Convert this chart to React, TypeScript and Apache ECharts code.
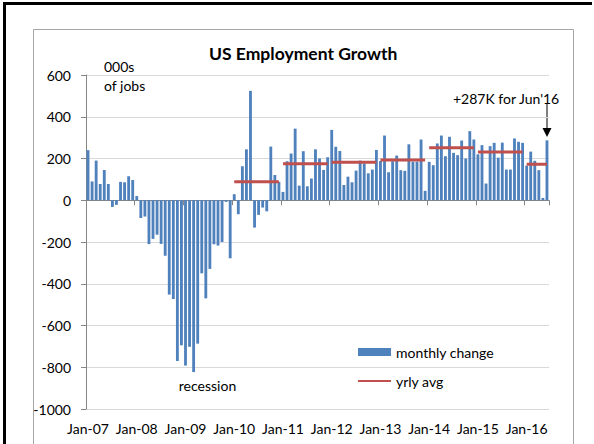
import React, { useEffect, useRef } from "react";
import * as echarts from "echarts";

const MONTHS = ["Jan", "Feb", "Mar", "Apr", "May", "Jun", "Jul", "Aug", "Sep", "Oct", "Nov", "Dec"];

const jobs2007 = [240, 90, 190, 78, 145, 78, -32, -22, 88, 86, 115, 97];
const jobs2008 = [20, -85, -78, -210, -185, -165, -209, -266, -452, -473, -770, -695];
const jobs2009 = [-792, -702, -823, -687, -350, -470, -329, -211, -217, -200, -8, -278];
const jobs2010 = [29, -67, 163, 244, 524, -131, -70, -35, -53, 257, 121, 88];
const jobs2011 = [40, 187, 224, 343, 70, 235, 67, 104, 244, 200, 145, 206];
const jobs2012 = [337, 256, 236, 73, 113, 86, 142, 190, 176, 129, 147, 241];
const jobs2013 = [188, 310, 134, 187, 214, 144, 141, 268, 185, 185, 291, 45];
const jobs2014 = [184, 168, 272, 310, 211, 304, 227, 216, 286, 200, 331, 291];
const jobs2015 = [220, 264, 80, 259, 275, 204, 276, 147, 147, 296, 280, 275];
const jobs2016 = [166, 233, 189, 144, 11, 287];

const years = [2007, 2008, 2009, 2010, 2011, 2012, 2013, 2014, 2015, 2016];
const yearlyJobs = [jobs2007, jobs2008, jobs2009, jobs2010, jobs2011, jobs2012, jobs2013, jobs2014, jobs2015, jobs2016];

const avgYears = [2010, 2011, 2012, 2013, 2014, 2015, 2016];
const avgValues = [89, 175, 182, 193, 251, 231, 172];

const yTicks = { min: -1000, max: 600, interval: 200 };

const FONT = "Lato";

export default function App() {
  const ref = useRef<HTMLDivElement>(null);

  useEffect(() => {
    document.body.style.margin = "0";
    if (!ref.current) return;
    const chart = echarts.init(ref.current, null, { renderer: "svg" });

    const categories: string[] = [];
    const catYear: number[] = [];
    const monthly: number[] = [];
    years.forEach((y, yi) => {
      yearlyJobs[yi].forEach((v, mi) => {
        categories.push(MONTHS[mi] + "-" + String(y).slice(2));
        catYear.push(y);
        monthly.push(v);
      });
    });

    const avgSeries = avgYears.map((y, i) => ({
      name: "yrly avg",
      type: "line",
      xAxisIndex: 0,
      yAxisIndex: 0,
      data: catYear.map((cy) => (cy === y ? avgValues[i] : null)),
      symbol: "none",
      connectNulls: false,
      lineStyle: { color: "#c0504d", width: 3 },
      itemStyle: { color: "#c0504d" },
      z: 5,
    }));

    chart.setOption({
      animation: false,
      textStyle: { fontFamily: FONT },
      title: {
        text: "US Employment Growth",
        left: 209,
        top: 44,
        padding: 0,
        textStyle: { fontFamily: FONT, fontSize: 17.5, fontWeight: "bold", color: "#000" },
      },
      legend: {
        orient: "vertical",
        left: 357,
        top: 344,
        padding: 0,
        itemWidth: 33,
        itemHeight: 8,
        itemGap: 13,
        data: [
          { name: "monthly change", icon: "rect" },
          { name: "yrly avg", itemStyle: { opacity: 0, color: "transparent", borderWidth: 0 } },
        ],
        textStyle: { fontFamily: FONT, fontSize: 14, lineHeight: 16, color: "#000" },
      },
      grid: { left: 86, right: 45, top: 75, bottom: 35, containLabel: false },
      xAxis: [
        {
          type: "category",
          data: categories,
          boundaryGap: true,
          axisLine: { onZero: true, lineStyle: { color: "#868686", width: 1 } },
          axisTick: {
            show: true,
            alignWithLabel: false,
            interval: (index: number) => index % 12 === 0,
            length: 5,
            lineStyle: { color: "#868686" },
          },
          axisLabel: { show: false },
          splitLine: { show: false },
        },
        {
          type: "category",
          data: categories,
          position: "bottom",
          boundaryGap: true,
          axisLine: { show: false, onZero: false },
          axisTick: { show: false },
          axisLabel: {
            interval: 11,
            color: "#000",
            fontFamily: FONT,
            fontSize: 14,
            margin: 12,
          },
          splitLine: { show: false },
        },
      ],
      yAxis: {
        type: "value",
        min: yTicks.min,
        max: yTicks.max,
        interval: yTicks.interval,
        axisLine: { show: true, lineStyle: { color: "#868686" } },
        axisTick: { show: true, length: 5, lineStyle: { color: "#868686" } },
        axisLabel: {
          color: "#000",
          fontFamily: FONT,
          fontSize: 14,
          margin: 15,
          formatter: (v: number) => String(v),
        },
        splitLine: { lineStyle: { color: "#d9d9d9", width: 1 } },
      },
      series: [
        {
          name: "monthly change",
          type: "bar",
          xAxisIndex: 0,
          yAxisIndex: 0,
          data: monthly,
          barCategoryGap: "30%",
          itemStyle: { color: "#4f81bd" },
          z: 2,
        },
        ...avgSeries,
      ],
      graphic: [
        { type: "rect", shape: { x: 3, y: 2, width: 589, height: 3 }, style: { fill: "#000" }, silent: true },
        { type: "rect", shape: { x: 3, y: 2, width: 3, height: 442 }, style: { fill: "#000" }, silent: true },
        {
          type: "rect",
          shape: { x: 33.5, y: 29.5, width: 540, height: 430 },
          style: { fill: "none", stroke: "#a6a6a6", lineWidth: 1 },
          silent: true,
        },
        {
          type: "text",
          x: 104,
          y: 66,
          style: { text: "000s", fontFamily: FONT, fontSize: 14, fill: "#000", textVerticalAlign: "middle" },
        },
        {
          type: "text",
          x: 104,
          y: 85,
          style: { text: "of jobs", fontFamily: FONT, fontSize: 14, fill: "#000", textVerticalAlign: "middle" },
        },
        {
          type: "text",
          x: 453,
          y: 98,
          style: { text: "+287K for Jun'16", fontFamily: FONT, fontSize: 14, fill: "#000", textVerticalAlign: "middle" },
        },
        {
          type: "text",
          x: 207.5,
          y: 385,
          style: {
            text: "recession",
            fontFamily: FONT,
            fontSize: 14,
            fill: "#000",
            textAlign: "center",
            textVerticalAlign: "middle",
          },
        },
        {
          type: "line",
          shape: { x1: 547, y1: 104, x2: 547, y2: 129 },
          style: { stroke: "#000", lineWidth: 1 },
        },
        {
          type: "polygon",
          shape: { points: [[542.5, 128], [551.5, 128], [547, 137]] },
          style: { fill: "#000" },
        },
      ],
    });

    return () => chart.dispose();
  }, []);

  return <div ref={ref} style={{ width: 594, height: 444 }} />;
}
